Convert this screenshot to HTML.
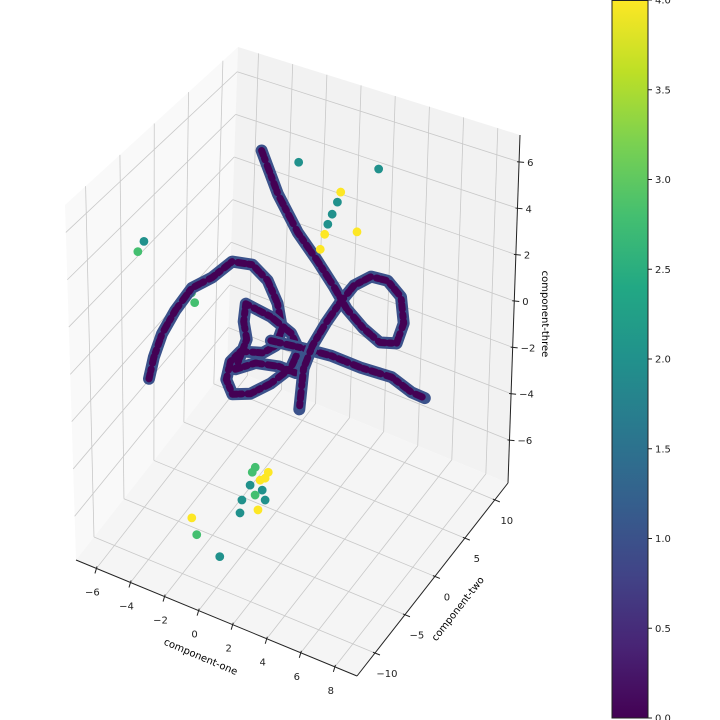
<!DOCTYPE html>
<html><head><meta charset="utf-8"><style>
html,body{margin:0;padding:0;background:#fff;}
svg{display:block;font-family:"DejaVu Sans","Liberation Sans",sans-serif;}
</style></head><body>
<svg id="chart" width="720" height="720" viewBox="0 0 720 720" xmlns="http://www.w3.org/2000/svg">
<defs>
<linearGradient id="viridis" x1="0" y1="1" x2="0" y2="0">
<stop offset="0" stop-color="#440154"/><stop offset="0.1" stop-color="#482475"/><stop offset="0.2" stop-color="#414487"/><stop offset="0.3" stop-color="#355f8d"/><stop offset="0.4" stop-color="#2a788e"/><stop offset="0.5" stop-color="#21918c"/><stop offset="0.6" stop-color="#22a884"/><stop offset="0.7" stop-color="#44bf70"/><stop offset="0.8" stop-color="#7ad151"/><stop offset="0.9" stop-color="#bddf26"/><stop offset="1" stop-color="#fde725"/>
</linearGradient>
</defs>
<g id="panes"></g>
<g id="grid"></g>
<g id="axes"></g>
<g id="marks"></g>
<g id="cbar"></g>
<text x="201" y="660" font-size="10" text-anchor="middle" transform="rotate(23 201 656)">component-one</text>
<text x="458" y="612" font-size="10" text-anchor="middle" transform="rotate(-52 458 609)">component-two</text>
<text x="546" y="310" font-size="10" text-anchor="middle" transform="rotate(90 542 310)">component-three</text>
</svg>
<script>
// ---- data ----
const xTicks = [-6,-4,-2,0,2,4,6,8];
const yTicks = [-10,-5,0,5,10];
const zTicks = [-6,-4,-2,0,2,4,6];
const cbarTicks = [0,0.5,1,1.5,2,2.5,3,3.5,4];
// curve A (long diagonal + right loop)
const aX = [-3.30,-2.30,-1.12,0.05,1.03,1.81,2.79,3.77,4.75,5.14,4.95,4.16,3.19,2.21,1.43,0.64,-0.14,-0.63,-0.83];
const aY = [6,6,6,6,6,6,6,6,6,6,6,6,6,6,6,6,6,6,6];
const aZ = [5.25,3.55,2.17,1.23,0.37,-0.41,-0.98,-1.33,-1.10,-0.11,0.98,1.47,1.39,0.73,-0.23,-1.34,-2.60,-3.76,-5.63];
// curve B (left arc)
const bX = [-6.02,-5.73,-5.24,-4.45,-3.48,-2.30,-1.13,0.05,0.93,1.51,1.71];
const bY = [-4,-4,-4,-4,-4,-4,-4,-4,-4,-4,-4];
const bZ = [-2.58,-1.56,-0.39,0.86,2.11,2.89,3.91,4.10,3.67,2.83,2.02];
// tangle
const tX = [0.30,-0.09,-0.85,-2.14,-2.73,-2.97,-2.61,-1.56,-0.38,0.79,1.26,0.79,-0.38,-1.85,-1.97,-1.79,-2.44,-1.27,0.09,1.08];
const tY = [0,0,0,0,0,0,0,0,0,0,0,0,0,0,0,0,0,0,0,0];
const tZ = [0.25,-0.66,-1.20,-1.50,-2.12,-2.98,-3.52,-3.19,-2.40,-1.39,-0.46,0.13,0.51,0.67,-0.15,-0.88,-2.38,-1.76,-1.52,-1.52];
// curve C (right-going tail)
const cX = [-0.38,1.38,3.14,4.90,6.66,7.83,8.60];
const cY = [0,0,0,0,0,0,0];
const cZ = [-0.53,-0.34,-0.19,-0.22,-0.12,-0.45,-0.48];
// outlier points (floor cluster, upper, left)
const pX = [-1.80,-1.13,-0.98,-1.40,-0.69,-1.24,-0.18,-0.87,-2.83,-2.02,-0.23,-1.05,-0.83,-0.21,-1.76, -1.14,3.50,1.33,1.15,0.86,0.62,0.45,0.21,2.32, -6.25,-6.61,-3.50,-3.32];
const pY = [1.54,0.46,0.86,-0.44,-0.44,-2.25,-2.58,-3.61,-6.06,-7.53,-8.77,1.58,-1.22,-1.31,0.93, 6,6,6,6,6,6,6,6,6, -4,-4,-4,-4];
const pZ = [-7,-7,-7,-7,-7,-7,-7,-7,-7,-7,-7,-7,-7,-7,-7, 5.29,6.18,4.61,4.12,3.51,3.00,2.51,1.78,3.12, 3.36,2.81,1.89,1.52];
const pV = [2.8,4,4,2,2,2,4,2,4,2.8,2,4,2.8,2,2.8, 2,2,4,2,2,2,4,4,4, 2,2.8,2.8,2.8];

// ---- projection ----
const XMIN=-7.2,XMAX=9.3,YMIN=-13,YMAX=12.2,ZMIN=-7.85,ZMAX=7.16;
const C={c000:[76,560],c100:[357,676],c010:[227,367],c110:[508,483],c001:[65,205],c101:[352,316],c011:[238,47],c111:[520,135]};
function bil(p00,p10,p01,p11,u,v){return [0,1].map(i=>p00[i]*(1-u)*(1-v)+p10[i]*u*(1-v)+p01[i]*(1-u)*v+p11[i]*u*v);}
function proj(x,y,z){
  const u=(x-XMIN)/(XMAX-XMIN),v=(y-YMIN)/(YMAX-YMIN),w=(z-ZMIN)/(ZMAX-ZMIN);
  const b=bil(C.c000,C.c100,C.c010,C.c110,u,v), t=bil(C.c001,C.c101,C.c011,C.c111,u,v);
  return [b[0]*(1-w)+t[0]*w, b[1]*(1-w)+t[1]*w];
}
const NS='http://www.w3.org/2000/svg';
function mk(tag,attrs,parent){const e=document.createElementNS(NS,tag);for(const k in attrs)e.setAttribute(k,attrs[k]);parent.appendChild(e);return e;}
const viridisStops=['#440154','#482475','#414487','#355f8d','#2a788e','#21918c','#22a884','#44bf70','#7ad151','#bddf26','#fde725'];
function hex(h){return [1,3,5].map(i=>parseInt(h.substr(i,2),16));}
function viridis(val){let t=Math.max(0,Math.min(1,val/4))*10;const i=Math.min(9,Math.floor(t)),f=t-i;const a=hex(viridisStops[i]),b=hex(viridisStops[i+1]);return 'rgb('+a.map((c,k)=>Math.round(c+(b[k]-c)*f)).join(',')+')';}
function poly(pts){return pts.map(p=>p[0].toFixed(1)+','+p[1].toFixed(1)).join(' ');}

// panes
const panes=document.getElementById('panes');
const pX1=mk('polygon',{points:poly([proj(XMIN,YMIN,ZMIN),proj(XMIN,YMAX,ZMIN),proj(XMIN,YMAX,ZMAX),proj(XMIN,YMIN,ZMAX)]),fill:'#f9f9f9'},panes);


const pY1=mk('polygon',{points:poly([proj(XMIN,YMAX,ZMIN),proj(XMAX,YMAX,ZMIN),proj(XMAX,YMAX,ZMAX),proj(XMIN,YMAX,ZMAX)]),fill:'#f2f2f2'},panes);


const pZ1=mk('polygon',{points:poly([proj(XMIN,YMIN,ZMIN),proj(XMAX,YMIN,ZMIN),proj(XMAX,YMAX,ZMIN),proj(XMIN,YMAX,ZMIN)]),fill:'#f5f5f5'},panes);



// grid
const grid=document.getElementById('grid');
function gl(a,b){const l=mk('line',{x1:a[0],y1:a[1],x2:b[0],y2:b[1],stroke:'#c8c8c8','stroke-width':0.8},grid);

}
yTicks.forEach(y=>{gl(proj(XMIN,y,ZMIN),proj(XMIN,y,ZMAX));gl(proj(XMIN,y,ZMIN),proj(XMAX,y,ZMIN));});
zTicks.forEach(z=>{gl(proj(XMIN,YMIN,z),proj(XMIN,YMAX,z));gl(proj(XMIN,YMAX,z),proj(XMAX,YMAX,z));});
xTicks.forEach(x=>{gl(proj(x,YMAX,ZMIN),proj(x,YMAX,ZMAX));gl(proj(x,YMIN,ZMIN),proj(x,YMAX,ZMIN));});

// axes
const axes=document.getElementById('axes');
function al(a,b,name){const l=mk('line',{x1:a[0],y1:a[1],x2:b[0],y2:b[1],stroke:'#222','stroke-width':1},axes);

}
function fmt(v){return (v<0?'\u2212':'')+Math.abs(v);}
al(proj(XMIN,YMIN,ZMIN),proj(XMAX,YMIN,ZMIN),'x-axis-line');
al(proj(XMAX,YMIN,ZMIN),proj(XMAX,YMAX,ZMIN),'y-axis-line');
al(proj(XMAX,YMAX,ZMIN),proj(XMAX,YMAX,ZMAX),'z-axis-line');
function tk(p,dx,dy,lx,ly,anchor,label,name){
  const l=mk('line',{x1:p[0]-dx*0.4,y1:p[1]-dy*0.4,x2:p[0]+dx,y2:p[1]+dy,stroke:'#222','stroke-width':1},axes);
  
  
  const t=mk('text',{x:p[0]+lx,y:p[1]+ly,'font-size':10,'text-anchor':anchor,fill:'#222'},axes);
  t.textContent=label;
  
  
}
xTicks.forEach(x=>tk(proj(x,YMIN,ZMIN),-1.5,5,-4,27,'middle',fmt(x),'x-tick'));
yTicks.forEach(y=>tk(proj(XMAX,y,ZMIN),5,2,12,24,'middle',fmt(y),'y-tick'));
zTicks.forEach(z=>tk(proj(XMAX,YMAX,z),5,0.5,8,4,'start',fmt(z),'z-tick'));

// marks
const marks=document.getElementById('marks');
function dots(xs,ys,zs,vals,name,r){
  xs.forEach((x,i)=>{const p=proj(x,ys[i],zs[i]);const c=viridis(vals[i]);
    const e=mk('circle',{cx:p[0],cy:p[1],r:r,fill:c,stroke:c,'stroke-width':0.8},marks);
    
    });
}
function curve(xs,ys,zs,name){
  const pts=xs.map((x,i)=>proj(x,ys[i],zs[i]));
  const a=mk('polyline',{points:poly(pts),fill:'none',stroke:'#3b528b','stroke-width':12,'stroke-linejoin':'round','stroke-linecap':'round'},marks);
  
  
  const b=mk('polyline',{points:poly(pts),fill:'none',stroke:'#440154','stroke-width':7,'stroke-dasharray':'5 3 2 6 7 4 3 5','stroke-linejoin':'round','stroke-linecap':'round'},marks);
  
  
}
dots(pX.slice(0,15),pY.slice(0,15),pZ.slice(0,15),pV.slice(0,15),'floor-cluster-point',4);
dots(pX.slice(24),pY.slice(24),pZ.slice(24),pV.slice(24),'left-outlier-point',4);
curve(bX,bY,bZ,'curve-b');
curve(tX,tY,tZ,'tangle');
curve(cX,cY,cZ,'curve-c');
curve(aX,aY,aZ,'curve-a');
dots(pX.slice(15,24),pY.slice(15,24),pZ.slice(15,24),pV.slice(15,24),'upper-outlier-point',4);

// colorbar
const cb=document.getElementById('cbar');
const CB={x:612,w:36,top:0,bot:718,min:0,max:4};
function cbY(v){return CB.bot-(v-CB.min)/(CB.max-CB.min)*(CB.bot-CB.top);}
const rect=mk('rect',{x:CB.x,y:CB.top+0.5,width:CB.w,height:CB.bot-CB.top-0.5,fill:'url(#viridis)',stroke:'#222','stroke-width':1},cb);


cbarTicks.forEach(v=>{const y=cbY(v);
  const l=mk('line',{x1:CB.x+CB.w,y1:y,x2:CB.x+CB.w+4,y2:y,stroke:'#222','stroke-width':1},cb);
  
  
  const t=mk('text',{x:CB.x+CB.w+7,y:y+3.5,'font-size':10,fill:'#222'},cb);
  t.textContent=v.toFixed(1);
  
  });
</script>
</body></html>
